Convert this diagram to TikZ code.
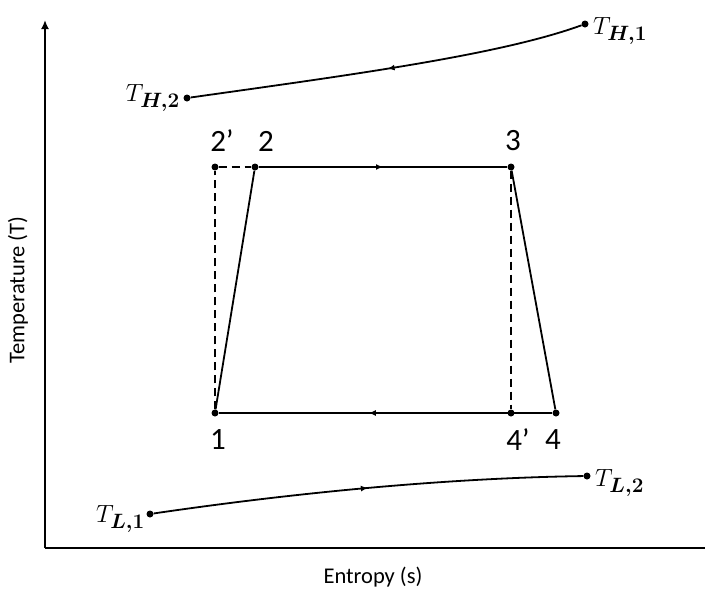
\documentclass[tikz,border=0pt]{standalone}
\usepackage{fontspec}
\usepackage{amsmath}
\setmainfont{Carlito}
\usetikzlibrary{arrows.meta,decorations.markings}
\tikzset{
  dot/.style={circle,fill=black,inner sep=0pt,minimum size=7pt},
  path/.style={line width=1.8pt},
  dashpath/.style={line width=1.8pt,dash pattern=on 8pt off 5pt},
  midarrow/.style={decoration={markings,mark=at position #1 with {\arrow{Latex[length=7pt,width=6pt]}}},postaction={decorate}},
  numlbl/.style={font=\fontsize{31}{34}\selectfont,inner sep=1pt},
  tlbl/.style={font=\fontsize{29}{34}\selectfont,inner sep=1pt},
  axlbl/.style={font=\fontsize{22.5}{26}\selectfont,inner sep=0pt}
}
\begin{document}
\begin{tikzpicture}[x=1pt,y=-1pt]
\useasboundingbox (0,0) rectangle (705,590);
% axes
\coordinate (O) at (45,548);
\coordinate (ytop) at (45,20);
\coordinate (xend) at (705,548);
\draw[line width=1.8pt,-{Latex[length=9pt,width=8pt]}] (O) -- (ytop);
\draw[line width=1.8pt] (O) -- (xend);
\node[axlbl,rotate=90] (ylab) at (18,290) {Temperature (T)};
\node[axlbl] (xlab) at (373,577) {Entropy (s)};
% points
\node[dot] (p1) at (215,413) {};
\node[dot] (p2p) at (215,167) {};
\node[dot] (p2) at (255,167) {};
\node[dot] (p3) at (511,167) {};
\node[dot] (p4p) at (511,413) {};
\node[dot] (p4) at (556,413) {};
\node[dot] (th1) at (585,24) {};
\node[dot] (th2) at (187,98) {};
\node[dot] (tl1) at (150,514) {};
\node[dot] (tl2) at (587,476) {};
% cycle
\draw[path] (p1) -- (p2);
\draw[path,midarrow=0.5] (p2) -- (p3);
\draw[path] (p3) -- (p4);
\draw[path,midarrow=0.55] (p4) -- (p1);
\draw[dashpath] (p1) -- (p2p);
\draw[dashpath] (p2p) -- (p2);
\draw[dashpath] (p3) -- (p4p);
% reservoirs
\draw[path,midarrow=0.5] (th1) .. controls (500,55) and (350,75) .. (th2);
\draw[path,midarrow=0.5] (tl1) .. controls (300,492) and (450,478) .. (tl2);
% labels
\node[numlbl] (l2p) at (222,141) {2’};
\node[numlbl] (l2) at (266,141) {2};
\node[numlbl] (l3) at (513,141) {3};
\node[numlbl] (l1) at (218,440) {1};
\node[numlbl] (l4p) at (518,440) {4’};
\node[numlbl] (l4) at (553,440) {4};
\node[tlbl,anchor=west] (lth1) at (592,31) {$T_{\boldsymbol{H,1}}$};
\node[tlbl,anchor=east] (lth2) at (181,98) {$T_{\boldsymbol{H,2}}$};
\node[tlbl,anchor=east] (ltl1) at (146,519) {$T_{\boldsymbol{L,1}}$};
\node[tlbl,anchor=west] (ltl2) at (594,483) {$T_{\boldsymbol{L,2}}$};
\end{tikzpicture}
\end{document}
